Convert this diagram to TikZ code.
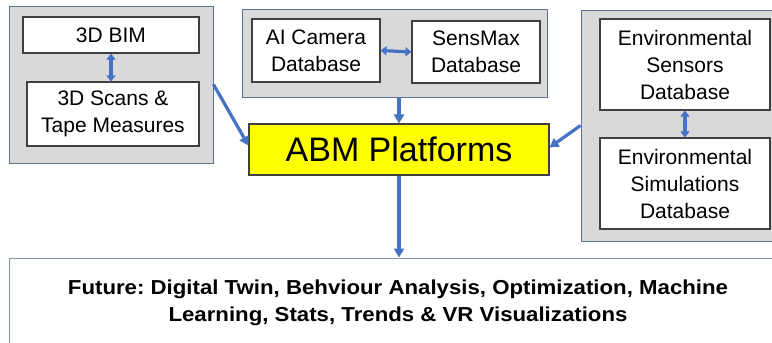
\documentclass[tikz,border=0pt]{standalone}
\usepackage{fontspec}
\setmainfont{Liberation Sans}
\newfontfamily\botfont{Liberation Sans}[FakeStretch=1.1]
\usetikzlibrary{arrows.meta,calc}
\definecolor{grpfill}{HTML}{D9D9D9}
\definecolor{grpline}{HTML}{5F7190}
\definecolor{boxline}{HTML}{404040}
\definecolor{arrblue}{HTML}{4472C4}
\definecolor{botline}{HTML}{8496B0}
\definecolor{abmfill}{HTML}{FFFF00}
\tikzset{
  grp/.style={draw=grpline, fill=grpfill, line width=1pt, inner sep=0pt},
  dbbox/.style={draw=boxline, fill=white, line width=1.1pt, inner sep=0pt, align=center,
    font=\fontsize{21}{27}\selectfont},
  abmbox/.style={draw=boxline, fill=abmfill, line width=1.1pt, inner sep=0pt,
    font=\fontsize{34}{40}\selectfont},
  botbox/.style={draw=botline, fill=white, line width=1pt, inner sep=0pt},
  bottext/.style={font=\botfont\fontsize{20.2}{27}\selectfont\bfseries\frenchspacing, align=center, inner sep=0pt},
  arr/.style={draw=arrblue, line width=3.2pt, -{Triangle[length=9pt,width=10pt]}},
  darr/.style={draw=arrblue, line width=3.2pt, {Triangle[length=6pt,width=9pt]}-{Triangle[length=6pt,width=9pt]}}
}
\begin{document}
\begin{tikzpicture}[x=1pt,y=-1pt]
\useasboundingbox (0,0) rectangle (772,343);
% groups
\node[grp, minimum width=204pt, minimum height=157pt] (lg) at (111,84.5) {};
\node[grp, minimum width=305pt, minimum height=88pt] (mg) at (394.5,53) {};
\node[grp, minimum width=194pt, minimum height=231pt] (rg) at (678,125.5) {};
% inner boxes
\node[dbbox, minimum width=176pt, minimum height=36pt] (bim) at (111,35) {3D BIM};
\node[dbbox, minimum width=172pt, minimum height=64pt] (scans) at (113,114) {3D Scans \&\\Tape Measures};
\node[dbbox, minimum width=128pt, minimum height=63pt] (ai) at (316,50.5) {AI Camera\\Database};
\node[dbbox, minimum width=128pt, minimum height=62pt] (sm) at (476,52) {SensMax\\Database};
\node[dbbox, minimum width=170pt, minimum height=91pt] (es) at (685,64.5) {Environmental\\Sensors\\Database};
\node[dbbox, minimum width=170pt, minimum height=91pt] (esim) at (685,183.5) {Environmental\\Simulations\\Database};
\node[abmbox, minimum width=300pt, minimum height=51pt] (abm) at (399,149.5) {ABM Platforms};
\node[botbox, minimum width=766pt, minimum height=92pt] (bot) at (392,304) {};
\node[bottext] (bottxt) at (398,303) {Future: Digital Twin, Behviour Analysis, Optimization, Machine\\Learning, Stats, Trends \& VR Visualizations};
% connectors
\draw[darr] (bim.south) -- (bim.south |- scans.north);
\draw[darr] (ai.east) -- (sm.west);
\draw[darr] (es.south) -- (esim.north);
\draw[arr] (lg.east) -- ($(abm.west)+(0,-4)$);
\draw[arr] (rg.west) -- ($(abm.east)+(0,-2)$);
\draw[arr] (abm.north |- mg.south) -- (abm.north);
\draw[arr] (abm.south) -- (abm.south |- bot.north);
\end{tikzpicture}
\end{document}
